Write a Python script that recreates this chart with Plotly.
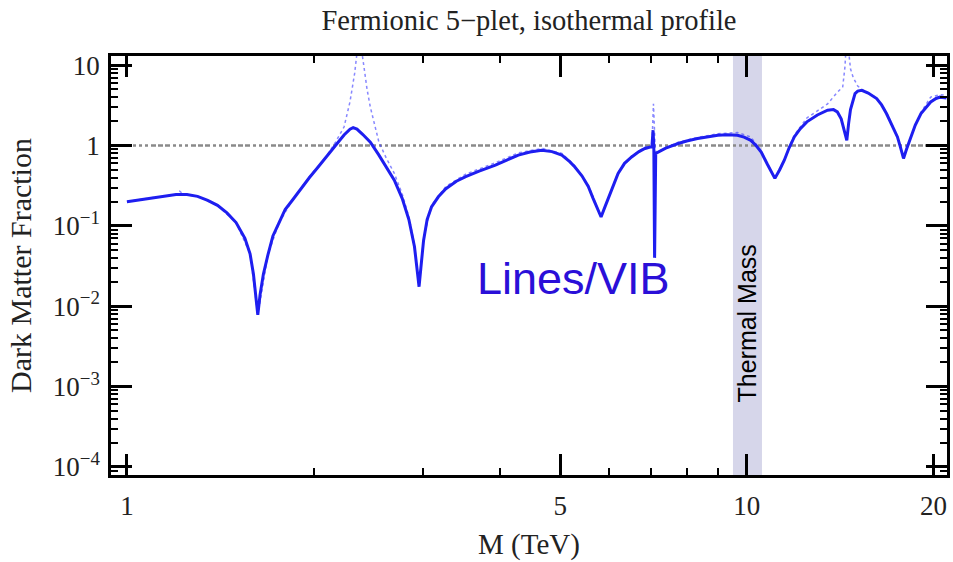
import math
import plotly.graph_objects as go

# Solid curve (Lines/VIB)
mass_solid = [1.0, 1.05, 1.1, 1.15, 1.2, 1.25, 1.3, 1.35, 1.4, 1.45, 1.5, 1.55, 1.58, 1.60,
              1.615, 1.626, 1.64, 1.66, 1.69, 1.72, 1.76, 1.80, 1.85, 1.90, 1.97, 2.03, 2.10,
              2.17, 2.24, 2.29, 2.317, 2.35, 2.40, 2.47, 2.55, 2.62, 2.70, 2.78, 2.85, 2.91,
              2.94, 2.96, 2.98, 3.01, 3.05, 3.10, 3.18, 3.27, 3.40, 3.52, 3.70, 3.93, 4.10,
              4.28, 4.47, 4.67, 4.85, 5.03, 5.18, 5.28, 5.42, 5.55, 5.65, 5.75, 5.82, 5.90,
              6.05, 6.20, 6.35, 6.52, 6.70, 6.85, 7.03, 7.06, 7.08, 7.10, 7.13, 7.40, 7.75,
              8.0, 8.33, 8.65, 8.98, 9.3, 9.66, 9.9, 10.15, 10.35, 10.55, 10.8, 11.1, 11.3,
              11.5, 11.7, 11.93, 12.2, 12.5, 13.0, 13.5, 13.8, 14.0, 14.2, 14.35, 14.5, 14.6,
              14.7, 14.95, 15.1, 15.33, 15.7, 16.2, 16.5, 16.8, 17.2, 17.5, 17.7, 17.9, 18.1,
              18.4, 18.7, 19.1, 19.45, 19.8, 20.2, 20.5, 21.0]
frac_solid = [0.20, 0.212, 0.225, 0.236, 0.245, 0.246, 0.233, 0.208, 0.18, 0.145, 0.11, 0.07,
              0.045, 0.025, 0.014, 0.0078, 0.014, 0.025, 0.045, 0.075, 0.11, 0.16, 0.21, 0.28,
              0.40, 0.53, 0.72, 1.0, 1.35, 1.6, 1.67, 1.6, 1.38, 1.1, 0.76, 0.55, 0.37, 0.22,
              0.12, 0.055, 0.03, 0.0175, 0.03, 0.066, 0.12, 0.172, 0.23, 0.29, 0.36, 0.41,
              0.48, 0.57, 0.66, 0.76, 0.83, 0.87, 0.84, 0.76, 0.63, 0.54, 0.42, 0.31, 0.22,
              0.16, 0.129, 0.17, 0.278, 0.45, 0.60, 0.72, 0.84, 0.92, 0.97, 1.55, 0.95, 0.04,
              0.80, 0.93, 1.06, 1.14, 1.22, 1.29, 1.34, 1.36, 1.34, 1.27, 1.16, 1.0, 0.83,
              0.58, 0.39, 0.50, 0.66, 0.93, 1.28, 1.62, 1.97, 2.4, 2.75, 2.8, 2.62, 2.15,
              1.6, 1.16, 1.9, 2.8, 4.44, 4.75, 4.87, 4.5, 3.84, 3.2, 2.5, 1.7, 1.28, 0.95,
              0.69, 0.9, 1.28, 1.8, 2.5, 3.0, 3.48, 3.85, 4.0, 3.9]

# Dotted curve
mass_dot = [1.0, 1.1, 1.2, 1.217, 1.235, 1.3, 1.4, 1.5, 1.58, 1.626, 1.69, 1.76, 1.85, 1.97,
            2.10, 2.17, 2.24, 2.29, 2.33, 2.37, 2.41, 2.44, 2.47, 2.55, 2.62, 2.70, 2.78,
            2.85, 2.91, 2.96, 3.01, 3.10, 3.27, 3.52, 3.93, 4.28, 4.67, 5.03, 5.28, 5.55,
            5.82, 6.05, 6.2, 6.52, 6.85, 7.03, 7.07, 7.12, 7.18, 7.75, 8.33, 8.98, 9.66,
            10.15, 10.55, 11.1, 11.5, 11.93, 12.5, 13.0, 13.5, 14.0, 14.28, 14.4, 14.5,
            14.7, 14.85, 15.1, 15.33, 16.2, 16.8, 17.5, 17.9, 18.4, 19.1, 19.8, 20.5, 21.0]
frac_dot = [0.20, 0.225, 0.245, 0.27, 0.245, 0.233, 0.18, 0.11, 0.045, 0.0078, 0.045, 0.11,
            0.21, 0.41, 0.74, 1.1, 1.7, 3.5, 7.9, 25.0, 10.0, 5.0, 3.0, 1.1, 0.7, 0.45, 0.25,
            0.13, 0.058, 0.0175, 0.07, 0.18, 0.31, 0.44, 0.61, 0.81, 0.92, 0.80, 0.56, 0.32,
            0.13, 0.29, 0.46, 0.74, 0.95, 1.0, 3.3, 0.85, 0.83, 1.1, 1.26, 1.4, 1.45,
            1.28, 0.85, 0.39, 0.68, 1.35, 2.2, 2.7, 3.3, 4.6, 5.35, 9.5, 25.0,
            9.0, 7.0, 5.5, 5.0, 3.9, 2.6, 1.3, 0.69, 1.3, 2.6, 4.0, 4.3, 4.2]

x_tickvals = [1, 5, 10, 20]
x_ticktext = ["1", "5", "10", "20"]
x_minor = [2, 3, 4, 6, 7, 8, 9]
y_tickvals = [1e-4, 1e-3, 1e-2, 1e-1, 1, 10]
y_ticktext = ["10<sup>−4</sup>", "10<sup>−3</sup>", "10<sup>−2</sup>", "10<sup>−1</sup>", "1", "10"]
y_minor = [m * 10.0 ** e for e in range(-5, 2) for m in range(2, 10)]

band = (9.5, 10.58)
ref_level = 1.0
label_vib = ("Lines/VIB", 5.25, 0.0224)
label_band = ("Thermal Mass", 0.00618)

serif = "Liberation Serif"
blue = "#1e1ef0"

fig = go.Figure()
fig.add_trace(go.Scatter(x=mass_dot, y=frac_dot, mode="lines",
                         line=dict(color="rgba(70,70,255,0.65)", width=1.5, dash="dot"),
                         showlegend=False, hoverinfo="skip"))
fig.add_trace(go.Scatter(x=mass_solid, y=frac_solid, mode="lines",
                         line=dict(color=blue, width=3),
                         showlegend=False))

fig.add_shape(type="rect", xref="x", yref="paper", x0=band[0], x1=band[1], y0=0, y1=1,
              fillcolor="rgb(214,214,234)", line=dict(width=0), layer="below")
fig.add_shape(type="line", xref="paper", yref="y", x0=0, x1=1, y0=ref_level, y1=ref_level,
              line=dict(color="#8a8a8a", width=2.5,
                        dash="5px,2px,5px,2px,5px,3px,3px,3px,3px,3px,3px,3px"),
              layer="below")

# annotations on log axes take log10 coordinates
fig.add_annotation(x=math.log10(label_vib[1]), y=math.log10(label_vib[2]), xref="x", yref="y",
                   text=label_vib[0], showarrow=False,
                   font=dict(family="Liberation Sans", size=45, color="#2a0fd8"))
fig.add_annotation(x=math.log10(math.sqrt(band[0] * band[1])), y=math.log10(label_band[1]),
                   xref="x", yref="y", text=label_band[0],
                   textangle=-90, showarrow=False,
                   font=dict(family="Liberation Sans", size=25, color="black"))

fig.update_layout(
    width=953, height=562,
    margin=dict(l=111, r=3, t=56, b=87),
    paper_bgcolor="white", plot_bgcolor="white",
    title=dict(text="Fermionic 5−plet, isothermal profile", x=0.5, xref="paper",
               xanchor="center", y=0.965, yanchor="middle",
               font=dict(family=serif, size=28.5, color="#222")),
    font=dict(family=serif, color="#222"),
)
fig.update_xaxes(
    type="log", range=[-0.0257, 1.323],
    tickmode="array", tickvals=x_tickvals, ticktext=x_ticktext,
    ticks="inside", ticklen=21, tickwidth=3, tickcolor="black",
    minor=dict(tickmode="array", tickvals=x_minor, ticks="inside", ticklen=7,
               tickwidth=2, tickcolor="black"),
    showline=True, linewidth=2.5, linecolor="black", mirror="ticks",
    showgrid=False, zeroline=False,
    tickfont=dict(family=serif, size=27, color="#222"),
    ticklabelstandoff=5,
    title=dict(text="M (TeV)", font=dict(family=serif, size=29, color="#222"), standoff=14),
)
fig.update_yaxes(
    type="log", range=[-4.10, 1.114],
    tickmode="array", tickvals=y_tickvals, ticktext=y_ticktext,
    ticks="inside", ticklen=21, tickwidth=3, tickcolor="black",
    minor=dict(tickmode="array", tickvals=y_minor, ticks="inside", ticklen=7,
               tickwidth=2, tickcolor="black"),
    showline=True, linewidth=2.5, linecolor="black", mirror="ticks",
    showgrid=False, zeroline=False,
    tickfont=dict(family=serif, size=27, color="#222"),
    ticklabelstandoff=3,
    title=dict(text="Dark Matter Fraction", font=dict(family=serif, size=30, color="#222"),
               standoff=13),
)

fig.write_html("out.html")
